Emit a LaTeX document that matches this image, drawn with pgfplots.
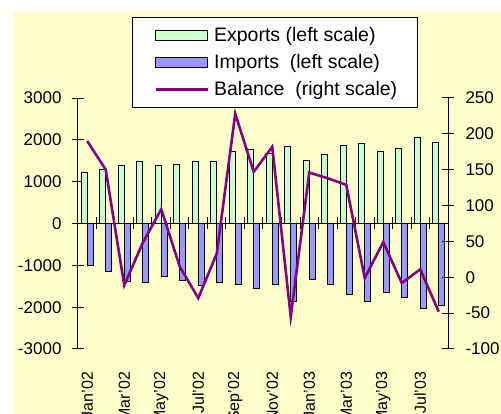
\documentclass[border=0pt]{standalone}
\usepackage{fontspec}
\setmainfont{Liberation Sans}
\usepackage{pgfplots}
\usepackage{pgfplotstable}
\pgfplotsset{compat=1.18}

\definecolor{bgyellow}{HTML}{FFFFCC}
\definecolor{expgreen}{HTML}{CCFFCC}
\definecolor{impblue}{HTML}{9999FF}
\definecolor{balpurple}{HTML}{800080}

\pgfplotsset{
  bararea/.style={legend image code/.code={\path (0pt,0pt); \draw[##1] (4pt,-5pt) rectangle (56pt,5pt);}},
  balline/.style={legend image code/.code={\path (0pt,0pt); \draw[##1] (4pt,0pt) -- (56pt,0pt);}},
  tradeframe/.style={
    width=370pt, height=251pt, scale only axis,
    xmin=-0.5, xmax=19.5,
    major tick length=12pt, tick align=center,
    tick style={black, line width=1pt},
    y axis line style={-, black, line width=1pt},
    ticklabel style={font=\fontsize{17}{20}\selectfont},
    /pgf/number format/assume math mode=true,
    /pgf/number format/1000 sep={},
  },
}

% month index, exports, imports (left scale), balance (right scale)
\pgfplotstableread{
m  exp   imp    bal
0  1220  -990   190
1  1300  -1150  150
2  1380  -1380  -11
3  1490  -1410  48
4  1380  -1260  95
5  1420  -1370  15
6  1490  -1480  -29
7  1490  -1410  33
8  1720  -1450  228
9  1760  -1560  147
10 1680  -1450  182
11 1840  -1860  -55
12 1500  -1340  146
13 1645  -1450  138
14 1875  -1690  129
15 1915  -1870  -1
16 1725  -1645  49
17 1800  -1755  -8
18 2060  -2030  11
19 1950  -1950  -48
}\tradedata

\begin{document}
\begin{tikzpicture}
\useasboundingbox (-78pt,-65pt) rectangle (423pt,349pt);
\fill[bgyellow] (-65pt,-65pt) rectangle (423pt,337pt);

\begin{axis}[
  tradeframe,
  ymin=-3000, ymax=3000,
  axis y line*=left, axis x line*=bottom,
  x axis line style={draw=none},
  ytick={-3000,-2000,...,3000},
  yticklabel style={xshift=-7pt},
  xtick={0,2,...,18},
  xticklabels={Jan'02,Mar'02,May'02,Jul'02,Sep'02,Nov'02,Jan'03,Mar'03,May'03,Jul'03},
  xtick style={draw=none},
  xticklabel style={rotate=90, anchor=east, xshift=-7.5pt, font=\fontsize{16}{19}\selectfont},
  ybar=0pt, bar width=6pt,
]
\addplot[fill=expgreen, draw=black, line width=0.8pt] table[x=m,y=exp]{\tradedata};
\addplot[fill=impblue, draw=black, line width=0.8pt] table[x=m,y=imp]{\tradedata};
\draw[line width=1pt] (axis cs:-0.5,0) -- (axis cs:19.5,0);
\pgfplotsinvokeforeach{0.5,1.5,2.5,3.5,4.5,5.5,6.5,7.5,8.5,9.5,10.5,11.5,12.5,13.5,14.5,15.5,16.5,17.5,18.5}{
  \draw[line width=1pt] ([yshift=-6pt]axis cs:#1,0) -- ([yshift=6pt]axis cs:#1,0);
}
\end{axis}

\begin{axis}[
  tradeframe,
  ymin=-100, ymax=250,
  axis y line*=right, axis x line=none,
  ytick={-100,-50,...,250},
  yticklabel style={xshift=8pt},
  legend style={
    at={(axis description cs:0.1459,1.3227)}, anchor=north west,
    draw=black, line width=1pt, fill=white,
    font=\fontsize{19.5}{22}\selectfont,
    inner xsep=18pt, inner ysep=8pt, row sep=7.5pt,
    nodes={inner ysep=2pt},
    /tikz/every odd column/.append style={column sep=3pt},
  },
  legend cell align=left,
]
\addlegendimage{bararea, fill=expgreen, draw=black, line width=1pt}
\addlegendentry{Exports (left scale)}
\addlegendimage{bararea, fill=impblue, draw=black, line width=1pt}
\addlegendentry{Imports~ (left scale)}
\addplot[balline, balpurple, line width=2.6pt, mark=none] table[x=m,y=bal]{\tradedata};
\addlegendentry{Balance~ (right scale)}
\end{axis}
\end{tikzpicture}
\end{document}
